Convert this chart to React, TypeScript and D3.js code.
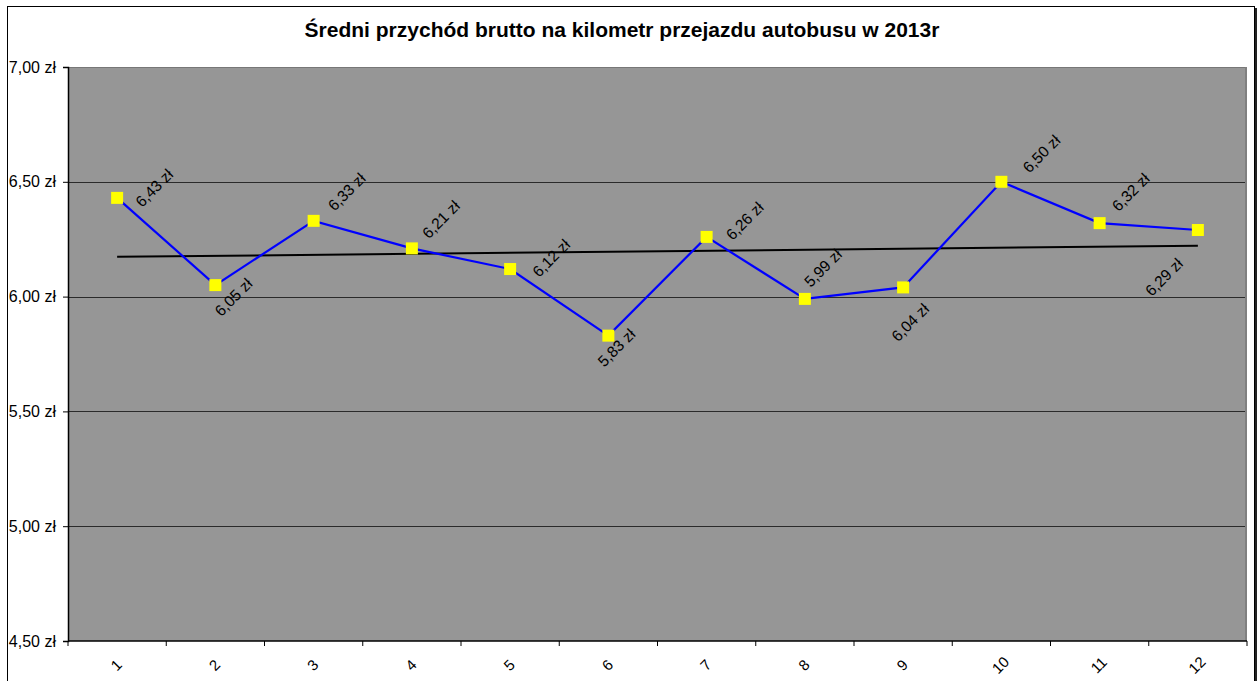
import React, { useEffect, useRef } from 'react';
import * as d3 from 'd3';

// chart data
const MONTHS = ['1', '2', '3', '4', '5', '6', '7', '8', '9', '10', '11', '12'];
const REVENUE = [6.43, 6.05, 6.33, 6.21, 6.12, 5.83, 6.26, 5.99, 6.04, 6.5, 6.32, 6.29];
const Y_TICKS = [4.5, 5.0, 5.5, 6.0, 6.5, 7.0];
const TITLE = 'Średni przychód brutto na kilometr przejazdu autobusu w 2013r';

// label nudges (center offset from the point, px) - excel put them all over the place
const LABEL_OFFSETS: [number, number][] = [
  [38, -9], [19, 13], [34, -28], [30, -28], [42, -10], [9, 13],
  [39, -15], [19, -30], [8, 36], [41, -27], [32, -30], [-33, 48],
];

const W = 1259;
const H = 681;
const FONT = '"Liberation Sans", Arial, sans-serif';

const fmt = (v: number) => v.toFixed(2).replace('.', ',') + ' zł';

export default function App() {
  const svgRef = useRef<SVGSVGElement>(null);

  useEffect(() => {
    if (!svgRef.current) return;
    const svg = d3.select(svgRef.current);
    svg.selectAll('*').remove();

    const plot = { left: 68, top: 67, right: 1247, bottom: 641 };

    const x = d3.scaleBand<string>().domain(MONTHS).range([plot.left, plot.right]);
    const y = d3.scaleLinear().domain([4.5, 7.0]).range([plot.bottom, plot.top]);
    const cx = (m: string) => (x(m) as number) + x.bandwidth() / 2;

    // chart frame
    svg.append('rect')
      .attr('x', 7.5).attr('y', 6.5)
      .attr('width', 1247).attr('height', 700)
      .attr('fill', 'white').attr('stroke', 'black');
    svg.append('line')
      .attr('x1', 1256).attr('x2', 1256).attr('y1', 8).attr('y2', H)
      .attr('stroke', '#222').attr('stroke-width', 2);

    svg.append('text')
      .attr('x', 622).attr('y', 37)
      .attr('text-anchor', 'middle')
      .attr('font-family', FONT).attr('font-size', 21).attr('font-weight', 'bold')
      .text(TITLE);

    // plot area
    svg.append('rect')
      .attr('x', plot.left).attr('y', plot.top)
      .attr('width', plot.right - plot.left).attr('height', plot.bottom - plot.top)
      .attr('fill', '#969696');
    svg.append('line')
      .attr('x1', plot.left).attr('x2', plot.right)
      .attr('y1', plot.top + 0.5).attr('y2', plot.top + 0.5)
      .attr('stroke', '#777');
    svg.append('line')
      .attr('x1', plot.right - 1).attr('x2', plot.right - 1)
      .attr('y1', plot.top).attr('y2', plot.bottom)
      .attr('stroke', '#808080').attr('stroke-width', 2);

    // gridlines
    svg.append('g')
      .selectAll('line')
      .data(Y_TICKS.filter(t => t > 4.5 && t < 7))
      .enter().append('line')
      .attr('x1', plot.left).attr('x2', plot.right - 2)
      .attr('y1', d => Math.round(y(d)) + 0.5).attr('y2', d => Math.round(y(d)) + 0.5)
      .attr('stroke', '#2a2a2a').attr('stroke-width', 1);

    // y axis
    const yAxis = svg.append('g').attr('transform', `translate(${plot.left},0)`)
      .call(d3.axisLeft(y).tickValues(Y_TICKS).tickSize(5).tickPadding(7).tickFormat(d => fmt(d as number)));
    yAxis.select('.domain').attr('stroke', 'black').attr('stroke-width', 1.5);
    yAxis.selectAll('.tick line').attr('stroke', 'black');
    yAxis.selectAll('.tick text')
      .attr('font-family', FONT).attr('font-size', 16).attr('fill', 'black');

    // x axis - ticks at band edges
    const xg = svg.append('g');
    xg.append('line')
      .attr('x1', plot.left).attr('x2', plot.right)
      .attr('y1', plot.bottom).attr('y2', plot.bottom)
      .attr('stroke', 'black').attr('stroke-width', 1.5);
    const edges = MONTHS.map(m => x(m) as number).concat([plot.right]);
    xg.selectAll('line.tk')
      .data(edges)
      .enter().append('line')
      .attr('class', 'tk')
      .attr('x1', d => d).attr('x2', d => d)
      .attr('y1', plot.bottom).attr('y2', plot.bottom + 5)
      .attr('stroke', 'black');
    xg.selectAll('text')
      .data(MONTHS)
      .enter().append('text')
      .attr('transform', d => `translate(${cx(d)},${plot.bottom + 25}) rotate(-45)`)
      .attr('text-anchor', 'middle')
      .attr('dominant-baseline', 'middle')
      .attr('font-family', FONT).attr('font-size', 15)
      .text(d => d);

    // trend line (linear regression)
    const idx = REVENUE.map((_, i) => i + 1);
    const mx = d3.mean(idx) as number;
    const my = d3.mean(REVENUE) as number;
    const slope = d3.sum(idx, (xi, i) => (xi - mx) * (REVENUE[i] - my)) / d3.sum(idx, xi => (xi - mx) ** 2);
    const icpt = my - slope * mx;
    svg.append('line')
      .attr('x1', cx(MONTHS[0])).attr('y1', y(icpt + slope * 1))
      .attr('x2', cx(MONTHS[11])).attr('y2', y(icpt + slope * 12))
      .attr('stroke', 'black').attr('stroke-width', 2);

    // series line
    const line = d3.line<number>()
      .x((_, i) => cx(MONTHS[i]))
      .y(d => y(d));
    svg.append('path')
      .datum(REVENUE)
      .attr('d', line)
      .attr('fill', 'none')
      .attr('stroke', '#0000ff')
      .attr('stroke-width', 2.2);

    // markers
    svg.append('g')
      .selectAll('rect')
      .data(REVENUE)
      .enter().append('rect')
      .attr('x', (_, i) => cx(MONTHS[i]) - 6)
      .attr('y', d => y(d) - 6)
      .attr('width', 12).attr('height', 12)
      .attr('fill', '#ffff00');

    // data labels
    svg.append('g')
      .selectAll('text')
      .data(REVENUE)
      .enter().append('text')
      .attr('transform', (d, i) =>
        `translate(${cx(MONTHS[i]) + LABEL_OFFSETS[i][0]},${y(d) + LABEL_OFFSETS[i][1]}) rotate(-45)`)
      .attr('text-anchor', 'middle')
      .attr('dominant-baseline', 'middle')
      .attr('font-family', FONT).attr('font-size', 15.5)
      .attr('fill', 'black')
      .text(d => fmt(d));
  }, []);

  return (
    <svg
      ref={svgRef}
      width={W}
      height={H}
      style={{ position: 'absolute', left: 0, top: 0, background: 'white' }}
    />
  );
}
